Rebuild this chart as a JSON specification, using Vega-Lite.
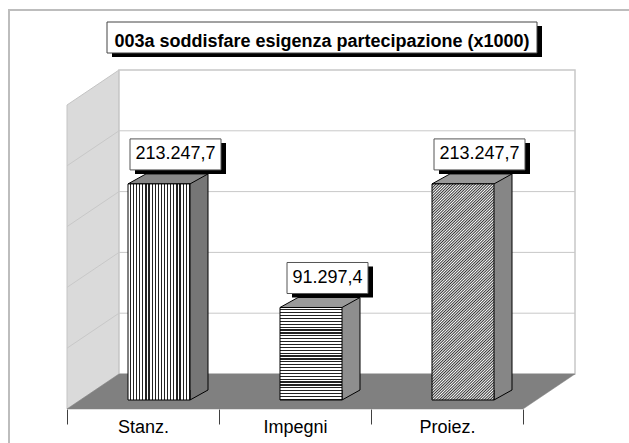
{
"$schema": "https://vega.github.io/schema/vega-lite/v6.json",
"width": 456,
"height": 304,
"autosize": {"type": "none"},
"padding": {"left": 67, "top": 96, "right": 106, "bottom": 43},
"background": "#ffffff",
"config": {"view": {"stroke": null}, "font": "Liberation Sans",
"axisX": {"domain": false, "grid": false, "tickBand": "extent", "tickSize": 15, "tickColor": "#404040", "tickWidth": 1, "labelFont": "Liberation Sans", "labelFontSize": 18, "labelColor": "#000000", "labelPadding": 8, "labelBaseline": "alphabetic", "labelAngle": 0, "offset": 9},
"locale": {"number": {"decimal": ",", "thousands": ".", "grouping": [3], "currency": ["€", ""]}}},
"data": {"values": [
{"cat": "Stanz.", "value": 213247.7},
{"cat": "Impegni", "value": 91297.4},
{"cat": "Proiez.", "value": 213247.7}
]},
"layer": [
{
"data": {"values": [{}]},
"mark": {"type": "point", "shape": "M -1.34 -3.9 L 4.97 -3.9 L 4.97 0.5 L -1.34 0.5 Z", "size": 40000, "filled": false, "stroke": "#bdbdbd", "strokeWidth": 2, "opacity": 1},
"encoding": {
"x": {"datum": "Stanz.", "type": "nominal", "title": null, "scale": {"domain": ["Stanz.", "Impegni", "Proiez."], "paddingInner": 0, "paddingOuter": 0}},
"y": {"datum": 0, "type": "quantitative", "scale": {"domain": [0, 300000], "nice": false}, "axis": null}
}
},
{
"data": {"values": [{}]},
"mark": {"type": "point", "shape": "M -0.76 -2.95 L -0.24 -3.3 L -0.24 -0.26 L -0.76 0.09 Z", "size": 40000, "filled": true, "fill": "#dadada", "stroke": "#c4c4c4", "strokeWidth": 1, "opacity": 1},
"encoding": {
"x": {"datum": "Stanz.", "type": "nominal", "title": null, "scale": {"domain": ["Stanz.", "Impegni", "Proiez."], "paddingInner": 0, "paddingOuter": 0}},
"y": {"datum": 0, "type": "quantitative", "scale": {"domain": [0, 300000], "nice": false}, "axis": null}
}
},
{
"data": {"values": [{}]},
"mark": {"type": "point", "shape": "M -0.24 -3.3 L 4.32 -3.3 L 4.32 -0.26 L -0.24 -0.26 Z", "size": 40000, "filled": true, "fill": "#ffffff", "stroke": "#c8c8c8", "strokeWidth": 1.5, "opacity": 1},
"encoding": {
"x": {"datum": "Stanz.", "type": "nominal", "title": null, "scale": {"domain": ["Stanz.", "Impegni", "Proiez."], "paddingInner": 0, "paddingOuter": 0}},
"y": {"datum": 0, "type": "quantitative", "scale": {"domain": [0, 300000], "nice": false}, "axis": null}
}
},
{
"data": {"values": [{"g": 60000}, {"g": 120000}, {"g": 180000}, {"g": 240000}]},
"mark": {"type": "point", "shape": "M -0.76 0.09 L -0.24 -0.26 L 4.32 -0.26", "size": 40000, "filled": false, "stroke": "#c8c8c8", "strokeWidth": 1, "opacity": 1},
"encoding": {
"x": {"datum": "Stanz.", "type": "nominal", "title": null, "scale": {"domain": ["Stanz.", "Impegni", "Proiez."], "paddingInner": 0, "paddingOuter": 0}},
"y": {"field": "g", "type": "quantitative", "scale": {"domain": [0, 300000], "nice": false}, "axis": null}
}
},
{
"data": {"values": [{}]},
"mark": {"type": "point", "shape": "M -0.76 0.09 L 3.8 0.09 L 4.32 -0.26 L -0.24 -0.26 Z", "size": 40000, "filled": true, "fill": "#808080", "stroke": "#808080", "strokeWidth": 0.5, "opacity": 1},
"encoding": {
"x": {"datum": "Stanz.", "type": "nominal", "title": null, "scale": {"domain": ["Stanz.", "Impegni", "Proiez."], "paddingInner": 0, "paddingOuter": 0}},
"y": {"datum": 0, "type": "quantitative", "scale": {"domain": [0, 300000], "nice": false}, "axis": null}
}
},
{
"mark": {"type": "bar", "width": 62, "xOffset": 34, "yOffset": -10, "y2Offset": -10},
"encoding": {
"x": {"field": "cat", "type": "nominal", "title": null, "scale": {"domain": ["Stanz.", "Impegni", "Proiez."], "paddingInner": 0, "paddingOuter": 0}},
"y": {"field": "value", "type": "quantitative", "scale": {"domain": [0, 300000], "nice": false}, "axis": null},
"y2": {"datum": 0},
"fill": {"condition": [{"test": "datum.cat === 'Stanz.'", "value": "#767676"}, {"test": "datum.cat === 'Impegni'", "value": "#8e8e8e"}], "value": "#868686"}
}
},
{
"mark": {"type": "point", "shape": "M 0.65 -0.1 L 0.47 0 L 0.47 -0.1", "size": 40000, "filled": true, "stroke": "#000000", "strokeWidth": 1, "opacity": 1},
"encoding": {
"x": {"field": "cat", "type": "nominal", "title": null, "scale": {"domain": ["Stanz.", "Impegni", "Proiez."], "paddingInner": 0, "paddingOuter": 0}},
"y": {"datum": 0, "type": "quantitative", "scale": {"domain": [0, 300000], "nice": false}, "axis": null},
"fill": {"condition": [{"test": "datum.cat === 'Stanz.'", "value": "#767676"}, {"test": "datum.cat === 'Impegni'", "value": "#8e8e8e"}], "value": "#868686"}
}
},
{
"mark": {"type": "rule", "stroke": "#000000", "strokeWidth": 1, "xOffset": 65, "yOffset": -10, "y2Offset": -10},
"encoding": {
"x": {"field": "cat", "type": "nominal", "title": null, "scale": {"domain": ["Stanz.", "Impegni", "Proiez."], "paddingInner": 0, "paddingOuter": 0}},
"y": {"field": "value", "type": "quantitative", "scale": {"domain": [0, 300000], "nice": false}, "axis": null},
"y2": {"datum": 0}
}
},
{
"mark": {"type": "point", "shape": "M -0.15 0 L 0.47 0 L 0.65 -0.1 L 0.03 -0.1 Z", "size": 40000, "filled": true, "stroke": "#000000", "strokeWidth": 1, "opacity": 1},
"encoding": {
"x": {"field": "cat", "type": "nominal", "title": null, "scale": {"domain": ["Stanz.", "Impegni", "Proiez."], "paddingInner": 0, "paddingOuter": 0}},
"y": {"field": "value", "type": "quantitative", "scale": {"domain": [0, 300000], "nice": false}, "axis": null},
"fill": {"condition": [{"test": "datum.cat === 'Stanz.'", "value": "#888888"}, {"test": "datum.cat === 'Impegni'", "value": "#9a9a9a"}], "value": "#999999"}
}
},
{
"mark": {"type": "bar", "width": 62, "xOffset": 16, "stroke": "#000000", "strokeWidth": 1},
"encoding": {
"x": {"field": "cat", "type": "nominal", "title": null, "scale": {"domain": ["Stanz.", "Impegni", "Proiez."], "paddingInner": 0, "paddingOuter": 0}},
"y": {"field": "value", "type": "quantitative", "scale": {"domain": [0, 300000], "nice": false}, "axis": null},
"y2": {"datum": 0},
"fill": {"condition": [
{"test": "datum.cat === 'Stanz.'", "value": {"gradient": "linear", "x1": 0, "y1": 0, "x2": 1, "y2": 0, "stops": [
{"offset":0,"color":"#fff"},{"offset":0.03,"color":"#fff"},{"offset":0.03,"color":"#222"},{"offset":0.05,"color":"#222"},
{"offset":0.05,"color":"#fff"},{"offset":0.08,"color":"#fff"},{"offset":0.08,"color":"#222"},{"offset":0.1,"color":"#222"},
{"offset":0.1,"color":"#fff"},{"offset":0.13,"color":"#fff"},{"offset":0.13,"color":"#222"},{"offset":0.15,"color":"#222"},
{"offset":0.15,"color":"#fff"},{"offset":0.18,"color":"#fff"},{"offset":0.18,"color":"#222"},{"offset":0.2,"color":"#222"},
{"offset":0.2,"color":"#fff"},{"offset":0.23,"color":"#fff"},{"offset":0.23,"color":"#222"},{"offset":0.25,"color":"#222"},
{"offset":0.25,"color":"#fff"},{"offset":0.28,"color":"#fff"},{"offset":0.28,"color":"#222"},{"offset":0.3,"color":"#222"},
{"offset":0.3,"color":"#fff"},{"offset":0.33,"color":"#fff"},{"offset":0.33,"color":"#222"},{"offset":0.35,"color":"#222"},
{"offset":0.35,"color":"#fff"},{"offset":0.38,"color":"#fff"},{"offset":0.38,"color":"#222"},{"offset":0.4,"color":"#222"},
{"offset":0.4,"color":"#fff"},{"offset":0.43,"color":"#fff"},{"offset":0.43,"color":"#222"},{"offset":0.45,"color":"#222"},
{"offset":0.45,"color":"#fff"},{"offset":0.48,"color":"#fff"},{"offset":0.48,"color":"#222"},{"offset":0.5,"color":"#222"},
{"offset":0.5,"color":"#fff"},{"offset":0.53,"color":"#fff"},{"offset":0.53,"color":"#222"},{"offset":0.55,"color":"#222"},
{"offset":0.55,"color":"#fff"},{"offset":0.58,"color":"#fff"},{"offset":0.58,"color":"#222"},{"offset":0.6,"color":"#222"},
{"offset":0.6,"color":"#fff"},{"offset":0.63,"color":"#fff"},{"offset":0.63,"color":"#222"},{"offset":0.65,"color":"#222"},
{"offset":0.65,"color":"#fff"},{"offset":0.68,"color":"#fff"},{"offset":0.68,"color":"#222"},{"offset":0.7,"color":"#222"},
{"offset":0.7,"color":"#fff"},{"offset":0.73,"color":"#fff"},{"offset":0.73,"color":"#222"},{"offset":0.75,"color":"#222"},
{"offset":0.75,"color":"#fff"},{"offset":0.78,"color":"#fff"},{"offset":0.78,"color":"#222"},{"offset":0.8,"color":"#222"},
{"offset":0.8,"color":"#fff"},{"offset":0.83,"color":"#fff"},{"offset":0.83,"color":"#222"},{"offset":0.85,"color":"#222"},
{"offset":0.85,"color":"#fff"},{"offset":0.88,"color":"#fff"},{"offset":0.88,"color":"#222"},{"offset":0.9,"color":"#222"},
{"offset":0.9,"color":"#fff"},{"offset":0.93,"color":"#fff"},{"offset":0.93,"color":"#222"},{"offset":0.95,"color":"#222"},
{"offset":0.95,"color":"#fff"},{"offset":0.98,"color":"#fff"},{"offset":0.98,"color":"#222"},{"offset":1,"color":"#222"}
]}},
{"test": "datum.cat === 'Impegni'", "value": {"gradient": "linear", "x1": 0, "y1": 0, "x2": 0, "y2": 1, "stops": [
{"offset":0,"color":"#fff"},{"offset":0.01875,"color":"#fff"},{"offset":0.01875,"color":"#222"},{"offset":0.03125,"color":"#222"},
{"offset":0.03125,"color":"#fff"},{"offset":0.05,"color":"#fff"},{"offset":0.05,"color":"#222"},{"offset":0.0625,"color":"#222"},
{"offset":0.0625,"color":"#fff"},{"offset":0.08125,"color":"#fff"},{"offset":0.08125,"color":"#222"},{"offset":0.09375,"color":"#222"},
{"offset":0.09375,"color":"#fff"},{"offset":0.1125,"color":"#fff"},{"offset":0.1125,"color":"#222"},{"offset":0.125,"color":"#222"},
{"offset":0.125,"color":"#fff"},{"offset":0.14375,"color":"#fff"},{"offset":0.14375,"color":"#222"},{"offset":0.15625,"color":"#222"},
{"offset":0.15625,"color":"#fff"},{"offset":0.175,"color":"#fff"},{"offset":0.175,"color":"#222"},{"offset":0.1875,"color":"#222"},
{"offset":0.1875,"color":"#fff"},{"offset":0.20625,"color":"#fff"},{"offset":0.20625,"color":"#222"},{"offset":0.21875,"color":"#222"},
{"offset":0.21875,"color":"#fff"},{"offset":0.2375,"color":"#fff"},{"offset":0.2375,"color":"#222"},{"offset":0.25,"color":"#222"},
{"offset":0.25,"color":"#fff"},{"offset":0.26875,"color":"#fff"},{"offset":0.26875,"color":"#222"},{"offset":0.28125,"color":"#222"},
{"offset":0.28125,"color":"#fff"},{"offset":0.3,"color":"#fff"},{"offset":0.3,"color":"#222"},{"offset":0.3125,"color":"#222"},
{"offset":0.3125,"color":"#fff"},{"offset":0.33125,"color":"#fff"},{"offset":0.33125,"color":"#222"},{"offset":0.34375,"color":"#222"},
{"offset":0.34375,"color":"#fff"},{"offset":0.3625,"color":"#fff"},{"offset":0.3625,"color":"#222"},{"offset":0.375,"color":"#222"},
{"offset":0.375,"color":"#fff"},{"offset":0.39375,"color":"#fff"},{"offset":0.39375,"color":"#222"},{"offset":0.40625,"color":"#222"},
{"offset":0.40625,"color":"#fff"},{"offset":0.425,"color":"#fff"},{"offset":0.425,"color":"#222"},{"offset":0.4375,"color":"#222"},
{"offset":0.4375,"color":"#fff"},{"offset":0.45625,"color":"#fff"},{"offset":0.45625,"color":"#222"},{"offset":0.46875,"color":"#222"},
{"offset":0.46875,"color":"#fff"},{"offset":0.4875,"color":"#fff"},{"offset":0.4875,"color":"#222"},{"offset":0.5,"color":"#222"},
{"offset":0.5,"color":"#fff"},{"offset":0.51875,"color":"#fff"},{"offset":0.51875,"color":"#222"},{"offset":0.53125,"color":"#222"},
{"offset":0.53125,"color":"#fff"},{"offset":0.55,"color":"#fff"},{"offset":0.55,"color":"#222"},{"offset":0.5625,"color":"#222"},
{"offset":0.5625,"color":"#fff"},{"offset":0.58125,"color":"#fff"},{"offset":0.58125,"color":"#222"},{"offset":0.59375,"color":"#222"},
{"offset":0.59375,"color":"#fff"},{"offset":0.6125,"color":"#fff"},{"offset":0.6125,"color":"#222"},{"offset":0.625,"color":"#222"},
{"offset":0.625,"color":"#fff"},{"offset":0.64375,"color":"#fff"},{"offset":0.64375,"color":"#222"},{"offset":0.65625,"color":"#222"},
{"offset":0.65625,"color":"#fff"},{"offset":0.675,"color":"#fff"},{"offset":0.675,"color":"#222"},{"offset":0.6875,"color":"#222"},
{"offset":0.6875,"color":"#fff"},{"offset":0.70625,"color":"#fff"},{"offset":0.70625,"color":"#222"},{"offset":0.71875,"color":"#222"},
{"offset":0.71875,"color":"#fff"},{"offset":0.7375,"color":"#fff"},{"offset":0.7375,"color":"#222"},{"offset":0.75,"color":"#222"},
{"offset":0.75,"color":"#fff"},{"offset":0.76875,"color":"#fff"},{"offset":0.76875,"color":"#222"},{"offset":0.78125,"color":"#222"},
{"offset":0.78125,"color":"#fff"},{"offset":0.8,"color":"#fff"},{"offset":0.8,"color":"#222"},{"offset":0.8125,"color":"#222"},
{"offset":0.8125,"color":"#fff"},{"offset":0.83125,"color":"#fff"},{"offset":0.83125,"color":"#222"},{"offset":0.84375,"color":"#222"},
{"offset":0.84375,"color":"#fff"},{"offset":0.8625,"color":"#fff"},{"offset":0.8625,"color":"#222"},{"offset":0.875,"color":"#222"},
{"offset":0.875,"color":"#fff"},{"offset":0.89375,"color":"#fff"},{"offset":0.89375,"color":"#222"},{"offset":0.90625,"color":"#222"},
{"offset":0.90625,"color":"#fff"},{"offset":0.925,"color":"#fff"},{"offset":0.925,"color":"#222"},{"offset":0.9375,"color":"#222"},
{"offset":0.9375,"color":"#fff"},{"offset":0.95625,"color":"#fff"},{"offset":0.95625,"color":"#222"},{"offset":0.96875,"color":"#222"},
{"offset":0.96875,"color":"#fff"},{"offset":0.9875,"color":"#fff"},{"offset":0.9875,"color":"#222"},{"offset":1,"color":"#222"}
]}}
],
"value": {"gradient": "linear", "x1": 0, "y1": 0, "x2": 0.335, "y2": 1.188, "stops": [
{"offset":0,"color":"#fff"},{"offset":0.005,"color":"#333"},{"offset":0.01,"color":"#fff"},{"offset":0.015,"color":"#333"},{"offset":0.02,"color":"#fff"},{"offset":0.025,"color":"#333"},{"offset":0.03,"color":"#fff"},{"offset":0.035,"color":"#333"},{"offset":0.04,"color":"#fff"},{"offset":0.045,"color":"#333"},
{"offset":0.05,"color":"#fff"},{"offset":0.055,"color":"#333"},{"offset":0.06,"color":"#fff"},{"offset":0.065,"color":"#333"},{"offset":0.07,"color":"#fff"},{"offset":0.075,"color":"#333"},{"offset":0.08,"color":"#fff"},{"offset":0.085,"color":"#333"},{"offset":0.09,"color":"#fff"},{"offset":0.095,"color":"#333"},
{"offset":0.1,"color":"#fff"},{"offset":0.105,"color":"#333"},{"offset":0.11,"color":"#fff"},{"offset":0.115,"color":"#333"},{"offset":0.12,"color":"#fff"},{"offset":0.125,"color":"#333"},{"offset":0.13,"color":"#fff"},{"offset":0.135,"color":"#333"},{"offset":0.14,"color":"#fff"},{"offset":0.145,"color":"#333"},
{"offset":0.15,"color":"#fff"},{"offset":0.155,"color":"#333"},{"offset":0.16,"color":"#fff"},{"offset":0.165,"color":"#333"},{"offset":0.17,"color":"#fff"},{"offset":0.175,"color":"#333"},{"offset":0.18,"color":"#fff"},{"offset":0.185,"color":"#333"},{"offset":0.19,"color":"#fff"},{"offset":0.195,"color":"#333"},
{"offset":0.2,"color":"#fff"},{"offset":0.205,"color":"#333"},{"offset":0.21,"color":"#fff"},{"offset":0.215,"color":"#333"},{"offset":0.22,"color":"#fff"},{"offset":0.225,"color":"#333"},{"offset":0.23,"color":"#fff"},{"offset":0.235,"color":"#333"},{"offset":0.24,"color":"#fff"},{"offset":0.245,"color":"#333"},
{"offset":0.25,"color":"#fff"},{"offset":0.255,"color":"#333"},{"offset":0.26,"color":"#fff"},{"offset":0.265,"color":"#333"},{"offset":0.27,"color":"#fff"},{"offset":0.275,"color":"#333"},{"offset":0.28,"color":"#fff"},{"offset":0.285,"color":"#333"},{"offset":0.29,"color":"#fff"},{"offset":0.295,"color":"#333"},
{"offset":0.3,"color":"#fff"},{"offset":0.305,"color":"#333"},{"offset":0.31,"color":"#fff"},{"offset":0.315,"color":"#333"},{"offset":0.32,"color":"#fff"},{"offset":0.325,"color":"#333"},{"offset":0.33,"color":"#fff"},{"offset":0.335,"color":"#333"},{"offset":0.34,"color":"#fff"},{"offset":0.345,"color":"#333"},
{"offset":0.35,"color":"#fff"},{"offset":0.355,"color":"#333"},{"offset":0.36,"color":"#fff"},{"offset":0.365,"color":"#333"},{"offset":0.37,"color":"#fff"},{"offset":0.375,"color":"#333"},{"offset":0.38,"color":"#fff"},{"offset":0.385,"color":"#333"},{"offset":0.39,"color":"#fff"},{"offset":0.395,"color":"#333"},
{"offset":0.4,"color":"#fff"},{"offset":0.405,"color":"#333"},{"offset":0.41,"color":"#fff"},{"offset":0.415,"color":"#333"},{"offset":0.42,"color":"#fff"},{"offset":0.425,"color":"#333"},{"offset":0.43,"color":"#fff"},{"offset":0.435,"color":"#333"},{"offset":0.44,"color":"#fff"},{"offset":0.445,"color":"#333"},
{"offset":0.45,"color":"#fff"},{"offset":0.455,"color":"#333"},{"offset":0.46,"color":"#fff"},{"offset":0.465,"color":"#333"},{"offset":0.47,"color":"#fff"},{"offset":0.475,"color":"#333"},{"offset":0.48,"color":"#fff"},{"offset":0.485,"color":"#333"},{"offset":0.49,"color":"#fff"},{"offset":0.495,"color":"#333"},
{"offset":0.5,"color":"#fff"},{"offset":0.505,"color":"#333"},{"offset":0.51,"color":"#fff"},{"offset":0.515,"color":"#333"},{"offset":0.52,"color":"#fff"},{"offset":0.525,"color":"#333"},{"offset":0.53,"color":"#fff"},{"offset":0.535,"color":"#333"},{"offset":0.54,"color":"#fff"},{"offset":0.545,"color":"#333"},
{"offset":0.55,"color":"#fff"},{"offset":0.555,"color":"#333"},{"offset":0.56,"color":"#fff"},{"offset":0.565,"color":"#333"},{"offset":0.57,"color":"#fff"},{"offset":0.575,"color":"#333"},{"offset":0.58,"color":"#fff"},{"offset":0.585,"color":"#333"},{"offset":0.59,"color":"#fff"},{"offset":0.595,"color":"#333"},
{"offset":0.6,"color":"#fff"},{"offset":0.605,"color":"#333"},{"offset":0.61,"color":"#fff"},{"offset":0.615,"color":"#333"},{"offset":0.62,"color":"#fff"},{"offset":0.625,"color":"#333"},{"offset":0.63,"color":"#fff"},{"offset":0.635,"color":"#333"},{"offset":0.64,"color":"#fff"},{"offset":0.645,"color":"#333"},
{"offset":0.65,"color":"#fff"},{"offset":0.655,"color":"#333"},{"offset":0.66,"color":"#fff"},{"offset":0.665,"color":"#333"},{"offset":0.67,"color":"#fff"},{"offset":0.675,"color":"#333"},{"offset":0.68,"color":"#fff"},{"offset":0.685,"color":"#333"},{"offset":0.69,"color":"#fff"},{"offset":0.695,"color":"#333"},
{"offset":0.7,"color":"#fff"},{"offset":0.705,"color":"#333"},{"offset":0.71,"color":"#fff"},{"offset":0.715,"color":"#333"},{"offset":0.72,"color":"#fff"},{"offset":0.725,"color":"#333"},{"offset":0.73,"color":"#fff"},{"offset":0.735,"color":"#333"},{"offset":0.74,"color":"#fff"},{"offset":0.745,"color":"#333"},
{"offset":0.75,"color":"#fff"},{"offset":0.755,"color":"#333"},{"offset":0.76,"color":"#fff"},{"offset":0.765,"color":"#333"},{"offset":0.77,"color":"#fff"},{"offset":0.775,"color":"#333"},{"offset":0.78,"color":"#fff"},{"offset":0.785,"color":"#333"},{"offset":0.79,"color":"#fff"},{"offset":0.795,"color":"#333"},
{"offset":0.8,"color":"#fff"},{"offset":0.805,"color":"#333"},{"offset":0.81,"color":"#fff"},{"offset":0.815,"color":"#333"},{"offset":0.82,"color":"#fff"},{"offset":0.825,"color":"#333"},{"offset":0.83,"color":"#fff"},{"offset":0.835,"color":"#333"},{"offset":0.84,"color":"#fff"},{"offset":0.845,"color":"#333"},
{"offset":0.85,"color":"#fff"},{"offset":0.855,"color":"#333"},{"offset":0.86,"color":"#fff"},{"offset":0.865,"color":"#333"},{"offset":0.87,"color":"#fff"},{"offset":0.875,"color":"#333"},{"offset":0.88,"color":"#fff"},{"offset":0.885,"color":"#333"},{"offset":0.89,"color":"#fff"},{"offset":0.895,"color":"#333"},
{"offset":0.9,"color":"#fff"},{"offset":0.905,"color":"#333"},{"offset":0.91,"color":"#fff"},{"offset":0.915,"color":"#333"},{"offset":0.92,"color":"#fff"},{"offset":0.925,"color":"#333"},{"offset":0.93,"color":"#fff"},{"offset":0.935,"color":"#333"},{"offset":0.94,"color":"#fff"},{"offset":0.945,"color":"#333"},
{"offset":0.95,"color":"#fff"},{"offset":0.955,"color":"#333"},{"offset":0.96,"color":"#fff"},{"offset":0.965,"color":"#333"},{"offset":0.97,"color":"#fff"},{"offset":0.975,"color":"#333"},{"offset":0.98,"color":"#fff"},{"offset":0.985,"color":"#333"},{"offset":0.99,"color":"#fff"},{"offset":0.995,"color":"#333"},
{"offset":1,"color":"#fff"}
]}}
}
},
{
"mark": {"type": "bar", "xOffset": 37.5, "yOffset": -41, "y2Offset": -10, "fill": "#000000"},
"encoding": {
"x": {"field": "cat", "type": "nominal", "title": null, "scale": {"domain": ["Stanz.", "Impegni", "Proiez."], "paddingInner": 0, "paddingOuter": 0}},
"y": {"field": "value", "type": "quantitative", "scale": {"domain": [0, 300000], "nice": false}, "axis": null},
"y2": {"field": "value"},
"size": {"condition": {"test": "datum.cat === 'Impegni'", "value": 81}, "value": 91}
}
},
{
"mark": {"type": "bar", "xOffset": 32.5, "yOffset": -45, "y2Offset": -14, "fill": "#ffffff", "stroke": "#555555", "strokeWidth": 1},
"encoding": {
"x": {"field": "cat", "type": "nominal", "title": null, "scale": {"domain": ["Stanz.", "Impegni", "Proiez."], "paddingInner": 0, "paddingOuter": 0}},
"y": {"field": "value", "type": "quantitative", "scale": {"domain": [0, 300000], "nice": false}, "axis": null},
"y2": {"field": "value"},
"size": {"condition": {"test": "datum.cat === 'Impegni'", "value": 81}, "value": 91}
}
},
{
"mark": {"type": "text", "xOffset": 32.5, "yOffset": -29.5, "align": "center", "baseline": "middle", "font": "Liberation Sans", "fontSize": 18, "fill": "#000000"},
"encoding": {
"x": {"field": "cat", "type": "nominal", "title": null, "scale": {"domain": ["Stanz.", "Impegni", "Proiez."], "paddingInner": 0, "paddingOuter": 0}},
"y": {"field": "value", "type": "quantitative", "scale": {"domain": [0, 300000], "nice": false}, "axis": null},
"text": {"field": "value", "type": "quantitative", "format": ",.1f"}
}
},
{
"data": {"values": [{}]},
"mark": {"type": "bar", "width": 430, "xOffset": 32, "yOffset": -70, "y2Offset": -39, "fill": "#000000"},
"encoding": {
"x": {"datum": "Impegni", "type": "nominal", "title": null, "scale": {"domain": ["Stanz.", "Impegni", "Proiez."], "paddingInner": 0, "paddingOuter": 0}},
"y": {"datum": 300000, "type": "quantitative", "scale": {"domain": [0, 300000], "nice": false}, "axis": null},
"y2": {"datum": 300000}
}
},
{
"data": {"values": [{}]},
"mark": {"type": "bar", "width": 430, "xOffset": 27, "yOffset": -74, "y2Offset": -43, "fill": "#ffffff", "stroke": "#444444", "strokeWidth": 1},
"encoding": {
"x": {"datum": "Impegni", "type": "nominal", "title": null, "scale": {"domain": ["Stanz.", "Impegni", "Proiez."], "paddingInner": 0, "paddingOuter": 0}},
"y": {"datum": 300000, "type": "quantitative", "scale": {"domain": [0, 300000], "nice": false}, "axis": null},
"y2": {"datum": 300000}
}
},
{
"data": {"values": [{"title": "003a soddisfare esigenza partecipazione (x1000)"}]},
"mark": {"type": "text", "xOffset": 27, "yOffset": -49, "align": "center", "baseline": "alphabetic", "font": "Liberation Sans", "fontSize": 18, "fontWeight": "bold", "fill": "#000000"},
"encoding": {
"x": {"datum": "Impegni", "type": "nominal", "title": null, "scale": {"domain": ["Stanz.", "Impegni", "Proiez."], "paddingInner": 0, "paddingOuter": 0}},
"y": {"datum": 300000, "type": "quantitative", "scale": {"domain": [0, 300000], "nice": false}, "axis": null},
"text": {"field": "title", "type": "nominal"}
}
}
]
}
